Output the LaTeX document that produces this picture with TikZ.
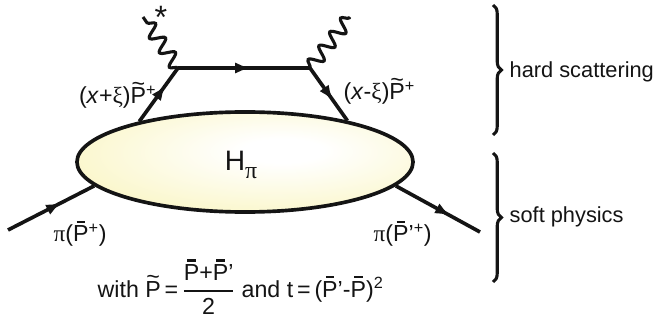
\documentclass[tikz,border=0pt]{standalone}
\usepackage{fontspec}
\setmainfont{Liberation Sans}
\newfontfamily\grk{Liberation Serif}
\usepackage{tikz}
\usetikzlibrary{
  arrows.meta,
  shapes.geometric,
  decorations.markings,
  decorations.pathmorphing,
  decorations.pathreplacing
}
\definecolor{blobyellow}{RGB}{247,240,160}
\definecolor{inkgray}{RGB}{20,20,20}
\pgfdeclareradialshading{blobshade}{\pgfpoint{6bp}{6bp}}{%
  color(0bp)=(white); color(6bp)=(white);
  color(52bp)=(blobyellow); color(100bp)=(blobyellow)}
\newcommand{\tildeP}{\ooalign{P\cr\hidewidth\raisebox{0.52em}{\textasciitilde}\hidewidth\cr}}
\newcommand{\barP}{\ooalign{P\cr\hidewidth\rule[0.8em]{0.36em}{0.11em}\hidewidth\cr}}
\newcommand{\gpi}{{\grk π}}
\newcommand{\gxi}{{\grk ξ}}

\begin{document}
\begin{tikzpicture}[
  x=0.025cm, y=-0.025cm,
  every node/.style={inner sep=1pt,text=inkgray,font=\fontsize{16.5}{19}\selectfont},
  blob/.style={ellipse,draw=inkgray,line width=2.6pt,shading=blobshade,
               minimum width=8.4cm,minimum height=2.5cm,inner sep=0pt},
  fermion/.style={draw=inkgray,line width=2.6pt},
  arrowat/.style={postaction={decorate},decoration={markings,
    mark=at position #1 with {\arrow{Latex[length=11pt,width=8pt]}}}},
  photon/.style={draw=inkgray,line width=2.2pt,decorate,
    decoration={snake,amplitude=4.8pt,segment length=12.5pt}},
  brace/.style={draw=inkgray,line width=2.2pt,decorate,
    decoration={brace,amplitude=6pt}},
  side/.style={anchor=west,font=\fontsize{15.5}{18}\selectfont},
]
\useasboundingbox[fill=white] (0,0) rectangle (656,320);

% soft part
\node[blob] (blob) at (245,162) {};
\node (hpi) at (241,165) {\fontsize{20}{22}\selectfont H\raisebox{-0.3em}{\fontsize{17}{19}\selectfont\gpi}};

% vertices and free ends
\coordinate (vl) at (178,68);
\coordinate (vr) at (310,68);
\coordinate (gl) at (143,17);
\coordinate (gr) at (350,17);
\coordinate (pin) at (8,230);
\coordinate (pout) at (480,232);

% hard part
\draw[fermion,arrowat=0.68] (blob.159) -- (vl);
\draw[fermion,arrowat=0.55] (vl) -- (vr);
\draw[fermion,arrowat=0.62] (vr) -- (blob.22);
\draw[photon] (vl) -- (gl);
\draw[photon] (vr) -- (gr);
\node[anchor=base,font=\fontsize{23}{25}\selectfont] (star) at (161,29) {*};

% pions
\draw[fermion,arrowat=0.62] (pin) -- (blob.189);
\draw[fermion,arrowat=0.65] (blob.351) -- (pout);

% labels
\node[anchor=base east] (kin)  at (158,104) {(\textit{x}+\gxi)\tildeP\textsuperscript{+}};
\node[anchor=base west] (kout) at (342,100) {(\textit{x}-\gxi)\tildeP\textsuperscript{+}};
\node[anchor=base west] (pil)  at (52,242)  {\gpi(\barP\textsuperscript{+})};
\node[anchor=base west] (pir)  at (372,242) {\gpi(\barP'\textsuperscript{+})};
\node[anchor=base west] (defs) at (96,297)
  {with \tildeP\,=\,$\displaystyle{\mbox{\barP+\barP'}\above 1.5pt\mbox{2}}$ and t\,=\,(\barP'-\barP)\textsuperscript{2}};

% braces
\coordinate (hardtop) at (493,5);
\coordinate (hardbot) at (493,135);
\coordinate (softtop) at (493,153);
\coordinate (softbot) at (493,282);
\draw[brace] (hardtop) -- (hardbot);
\draw[brace] (softtop) -- (softbot);
\node[side] (hard) at (508,72)  {hard scattering};
\node[side] (soft) at (508,217) {soft physics};
\end{tikzpicture}
\end{document}
